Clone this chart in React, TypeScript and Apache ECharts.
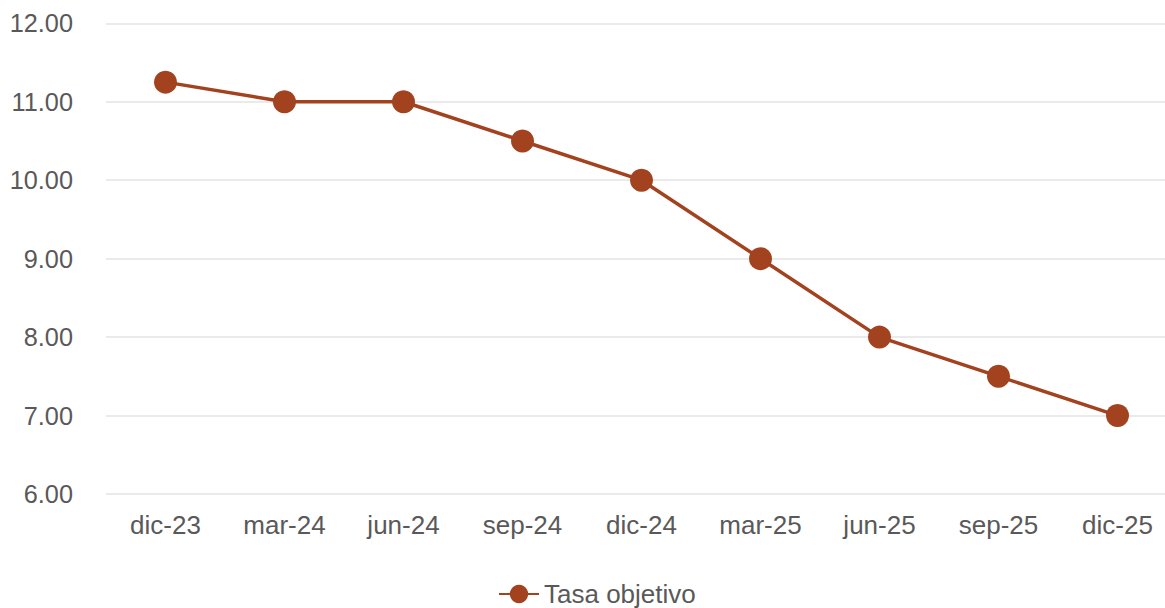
import React, { useEffect, useRef } from "react";
import * as echarts from "echarts";

const categories = ["dic-23", "mar-24", "jun-24", "sep-24", "dic-24", "mar-25", "jun-25", "sep-25", "dic-25"];
const tasaObjetivo = [11.25, 11.0, 11.0, 10.5, 10.0, 9.0, 8.0, 7.5, 7.0];
const seriesName = "Tasa objetivo";

const FONT = "'Liberation Sans', Arial, Helvetica, sans-serif";
const COLOR = "#A3421F";

export default function App() {
  const ref = useRef<HTMLDivElement>(null);
  useEffect(() => {
    document.body.style.margin = "0";
    const chart = echarts.init(ref.current!, null, { renderer: "svg" });
    chart.setOption({
      animation: false,
      backgroundColor: "#ffffff",
      grid: { left: 106, right: 0, top: 23.3, bottom: 114, containLabel: false },
      legend: {
        left: 493,
        top: 576,
        itemWidth: 40,
        itemHeight: 23,
        itemGap: 6,
        textStyle: { fontFamily: FONT, fontSize: 26, color: "#595959" },
        data: [seriesName],
      },
      xAxis: {
        type: "category",
        data: categories,
        boundaryGap: true,
        axisLine: { show: false },
        axisTick: { show: false },
        axisLabel: { fontFamily: FONT, fontSize: 26, color: "#595959", margin: 18 },
        splitLine: { show: false },
      },
      yAxis: {
        type: "value",
        min: 6,
        max: 12,
        interval: 1,
        axisLine: { show: false },
        axisTick: { show: false },
        axisLabel: {
          fontFamily: FONT,
          fontSize: 25.3,
          color: "#595959",
          margin: 33,
          formatter: (v: number) => v.toFixed(2),
        },
        splitLine: { lineStyle: { color: "#e3e3e3", width: 1.5 } },
      },
      series: [
        {
          name: seriesName,
          type: "line",
          data: tasaObjetivo,
          symbol: "circle",
          symbolSize: 23,
          lineStyle: { color: COLOR, width: 3.5 },
          itemStyle: { color: COLOR },
        },
      ],
    });
    return () => chart.dispose();
  }, []);
  return (
    <div style={{ position: "fixed", left: 0, top: 0, width: 1165, height: 608, overflow: "hidden", background: "#fff" }}>
      <div ref={ref} style={{ position: "absolute", left: 0, top: 0, width: 1177, height: 608 }} />
    </div>
  );
}
